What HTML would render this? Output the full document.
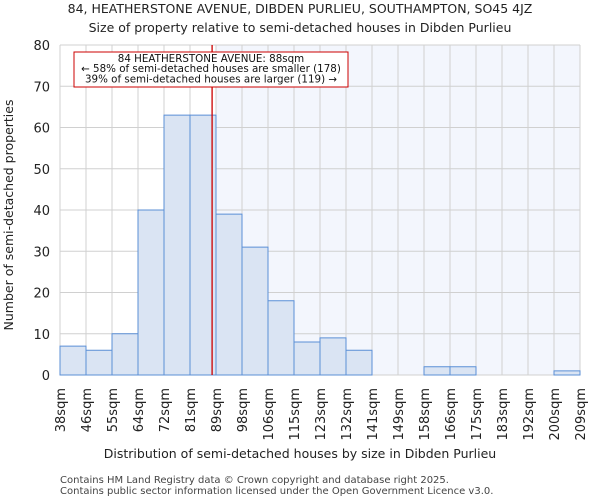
<!DOCTYPE html>
<html><head><meta charset="utf-8"><style>
body{margin:0;background:#fff;font-family:"DejaVu Sans","Liberation Sans",sans-serif;}
</style></head><body>
<svg id="chart" width="600" height="500" xmlns="http://www.w3.org/2000/svg" font-family="DejaVu Sans, Liberation Sans, sans-serif">
<text x="300" y="13" text-anchor="middle" font-size="12.5" fill="#222">84, HEATHERSTONE AVENUE, DIBDEN PURLIEU, SOUTHAMPTON, SO45 4JZ</text>
<text x="300" y="32" text-anchor="middle" font-size="12.5" fill="#222">Size of property relative to semi-detached houses in Dibden Purlieu</text>
<g id="plot"></g>
<text x="300" y="458" text-anchor="middle" font-size="12.5" fill="#222">Distribution of semi-detached houses by size in Dibden Purlieu</text>
<text transform="translate(13,215) rotate(-90)" text-anchor="middle" font-size="12.5" fill="#222">Number of semi-detached properties</text>
<text x="60" y="483" font-size="10" fill="#444">Contains HM Land Registry data © Crown copyright and database right 2025.</text>
<text x="60" y="494" font-size="10" fill="#444">Contains public sector information licensed under the Open Government Licence v3.0.</text>
</svg>
<script>
const binLabels=["38sqm","46sqm","55sqm","64sqm","72sqm","81sqm","89sqm","98sqm","106sqm","115sqm","123sqm","132sqm","141sqm","149sqm","158sqm","166sqm","175sqm","183sqm","192sqm","200sqm","209sqm"];
const counts=[7,6,10,40,63,63,39,31,18,8,9,6,0,0,2,2,0,0,0,1];
const yTicks=[0,10,20,30,40,50,60,70,80];
const markerBinPos=5.85;
const NS="http://www.w3.org/2000/svg";
const L=60,R=580,T=45,B=375,yMax=80;
const bw=(R-L)/counts.length;
const xs=i=>L+i*bw;
const ys=v=>B-(v/yMax)*(B-T);
const g=document.getElementById('plot');
function mk(t,a){const e=document.createElementNS(NS,t);for(const k in a)e.setAttribute(k,a[k]);g.appendChild(e);return e;}
const shadeStart=xs(Math.ceil(markerBinPos));
let e=mk('rect',{x:shadeStart,y:T,width:R-shadeStart,height:B-T,fill:'#f3f6fd'});


for(let i=0;i<binLabels.length;i++){e=mk('line',{x1:xs(i),x2:xs(i),y1:T,y2:B,stroke:'#d0d0d0','stroke-width':1});

}
yTicks.forEach(v=>{e=mk('line',{x1:L,x2:R,y1:ys(v),y2:ys(v),stroke:'#d0d0d0','stroke-width':1});


e=mk('text',{x:L-10,y:ys(v)+5,'text-anchor':'end','font-size':13,fill:'#222'});e.textContent=v;

});
counts.forEach((c,i)=>{if(c<=0)return;e=mk('rect',{x:xs(i),y:ys(c),width:bw,height:B-ys(c),fill:'#dae4f3',stroke:'#5b8fd6','stroke-width':1});

});
binLabels.forEach((s,i)=>{e=mk('text',{transform:`translate(${xs(i)+5},388) rotate(-90)`,'text-anchor':'end','font-size':13,fill:'#222'});e.textContent=s;

});
const mx=xs(markerBinPos);
e=mk('line',{x1:mx,x2:mx,y1:T,y2:B,stroke:'#cc0000','stroke-width':1.3});


e=mk('rect',{x:74,y:52,width:274,height:35,fill:'#fff',stroke:'#cc0000','stroke-width':1});


["84 HEATHERSTONE AVENUE: 88sqm","← 58% of semi-detached houses are smaller (178)","39% of semi-detached houses are larger (119) →"].forEach((t,i)=>{e=mk('text',{x:211,y:62+i*10.2,'text-anchor':'middle','font-size':10.3,fill:'#111'});e.textContent=t;

});
</script>
</body></html>
